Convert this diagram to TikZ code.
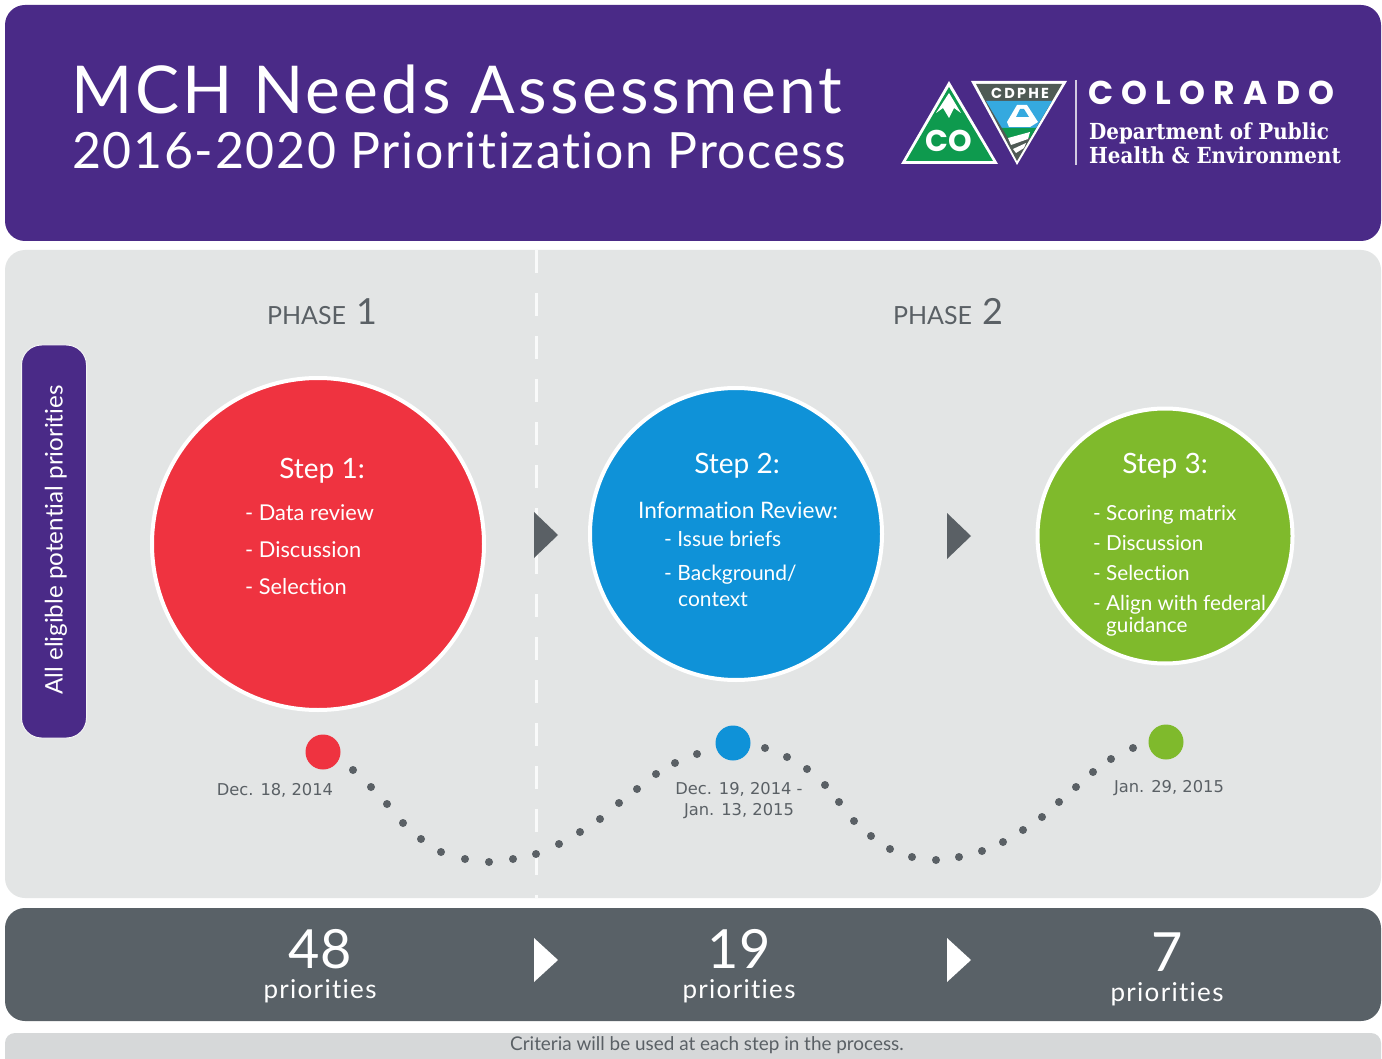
\documentclass[tikz,border=0pt]{standalone}
\usepackage{fontspec}
\setmainfont{Lato}[Ligatures=NoCommon]
\newfontfamily\logofont{Poppins}
\newfontfamily\slabfont{DejaVu Serif Condensed}
\newfontfamily\datefont{DejaVu Sans}
\usetikzlibrary{positioning}

\definecolor{headpurple}{HTML}{4A2A87}
\definecolor{panelgrey}{HTML}{E3E5E5}
\definecolor{bargrey}{HTML}{596167}
\definecolor{stripgrey}{HTML}{D6D8D9}
\definecolor{stepred}{HTML}{EF3340}
\definecolor{stepblue}{HTML}{0F92D8}
\definecolor{stepgreen}{HTML}{7FBA2C}
\definecolor{textgrey}{HTML}{5A6065}
\definecolor{logogreen}{HTML}{0E9A4E}
\definecolor{logogrey}{HTML}{4F5A55}
\definecolor{logoblue}{HTML}{35A9DF}

\tikzstyle{band} = [rectangle, rounded corners=20pt, inner sep=0pt]
\tikzstyle{step_circle} = [circle, draw=white, line width=4pt, inner sep=0pt]
\tikzstyle{step_text} = [text=white, anchor=base west, inner sep=0pt]
\tikzstyle{step_title} = [text=white, anchor=base, inner sep=0pt, font=\fontsize{28}{30}\selectfont]
\tikzstyle{date_dot} = [circle, inner sep=0pt, minimum size=35pt]
\tikzstyle{path_dot} = [circle, fill=textgrey, inner sep=0pt, minimum size=8pt]
\tikzstyle{date_text} = [text=textgrey, align=center, inner sep=0pt, font=\datefont\fontsize{16.3}{21}\selectfont]
\tikzstyle{phase_text} = [text=textgrey, anchor=base, inner sep=0pt]
\tikzstyle{count_num} = [text=white, anchor=base, inner sep=0pt, font=\fontsize{54}{56}\selectfont]
\tikzstyle{count_text} = [text=white, anchor=base, inner sep=0pt, font=\addfontfeature{LetterSpace=5}\fontsize{26}{28}\selectfont]
\tikzstyle{next_mark} = [fill=textgrey]

\begin{document}
\begin{tikzpicture}[x=1pt, y=-1pt]
    \useasboundingbox (0,0) rectangle (1382,1059);
    \fill [white] (0,0) rectangle (1382,1059);

    % bands
    \node (head)  [band, fill=headpurple, minimum width=1376pt, minimum height=236pt] at (693,123) {};
    \node (panel) [band, fill=panelgrey, minimum width=1376pt, minimum height=648pt] at (693,574) {};
    \node (bar)   [band, fill=bargrey, minimum width=1376pt, minimum height=113pt] at (693,964.5) {};
    \fill [stripgrey, rounded corners=10pt] (5,1070) rectangle (1381,1033);
    \draw [white!80!panelgrey, line width=3pt, dash pattern=on 23pt off 20pt] (536,250) -- (536,898);

    % header text
    \node (title) [anchor=base west, text=white, inner sep=0pt, font=\addfontfeature{LetterSpace=4.8}\fontsize{66}{68}\selectfont] at (71,114) {MCH Needs Assessment};
    \node (subtitle) [anchor=base west, text=white, inner sep=0pt, font=\addfontfeature{LetterSpace=3.3}\fontsize{50}{52}\selectfont] at (72,169) {2016-2020 Prioritization Process};

    % logo
    \fill [white, line join=round] (949,81) -- (998,164) -- (901,164) -- cycle;
    \fill [logogreen] (949,87) -- (993,161) -- (906,161) -- cycle;
    \fill [white] (949,93) -- (961,113) -- (954,108) -- (949,118) -- (943,108) -- (936,113) -- cycle;
    \node (co) [text=white, inner sep=0pt, font=\logofont\bfseries\fontsize{30}{30}\selectfont] at (949,141) {CO};
    \fill [white, line join=round] (971,81) -- (1067,81) -- (1017,165) -- cycle;
    \fill [logogrey] (976,84) -- (1062,84) -- (1017,161) -- cycle;
    \fill [logoblue] (986,101) -- (1052,101) -- (1036,128) -- (1002,128) -- cycle;
    \fill [white] (1007,122) -- (1017,105) -- (1027,105) -- (1038,122) -- (1030,127) -- (1009,127) -- cycle;
    \fill [logoblue] (1016,117) -- (1020,109) -- (1024,109) -- (1029,117) -- cycle;
    \fill [logogreen] (1002,128) -- (1036,128) -- (1030,138) -- (1008,138) -- cycle;
    \fill [white] (1008,138) -- (1030,132) -- (1028,139) -- (1011,145) -- cycle;
    \fill [white] (1013,149) -- (1026,143) -- (1024,148) -- (1016,153) -- cycle;
    \node (cdphe) [text=white, inner sep=0pt, font=\logofont\bfseries\addfontfeature{LetterSpace=15}\fontsize{14.5}{15}\selectfont] at (1020,93) {CDPHE};
    \draw [white!75!headpurple, line width=1.5pt] (1076,80) -- (1076,165);
    \node (colorado) [anchor=base west, text=white, inner sep=0pt, font=\logofont\bfseries\addfontfeature{LetterSpace=25}\fontsize{33}{33}\selectfont] at (1088,105) {COLORADO};
    \node (dept) [anchor=base west, text=white, inner sep=0pt, font=\slabfont\bfseries\fontsize{22.1}{22}\selectfont] at (1089,140) {Department of Public};
    \node (health) [anchor=base west, text=white, inner sep=0pt, font=\slabfont\bfseries\fontsize{22.1}{22}\selectfont] at (1089,164) {Health \& Environment};

    % phases
    \node (phase1) [phase_text] at (322,325) {{\fontsize{25}{25}\selectfont PHASE}\hspace{10pt}{\fontsize{36}{36}\selectfont 1}};
    \node (phase2) [phase_text] at (948,325) {{\fontsize{25}{25}\selectfont PHASE}\hspace{10pt}{\fontsize{36}{36}\selectfont 2}};

    % side label
    \node (side) [band, fill=headpurple, draw=white!60!panelgrey, line width=1pt, minimum width=65pt, minimum height=393pt] at (54,541.5) {};
    \node (sidetext) [rotate=90, text=white, inner sep=0pt, font=\fontsize{24.2}{26}\selectfont] at (56,540) {All eligible potential priorities};

    % steps
    \node (step1) [step_circle, fill=stepred, minimum size=332pt] at (318,544) {};
    \node (step2) [step_circle, fill=stepblue, minimum size=292pt] at (736,534) {};
    \node (step3) [step_circle, fill=stepgreen, minimum size=255pt] at (1165,536) {};

    \node (s1title) [step_title] at (322,478) {Step 1:};
    \node (s1a) [step_text, font=\fontsize{21.8}{24}\selectfont] at (245,520) {- Data review};
    \node (s1b) [step_text, font=\fontsize{21.8}{24}\selectfont] at (245,557) {- Discussion};
    \node (s1c) [step_text, font=\fontsize{21.8}{24}\selectfont] at (245,594) {- Selection};

    \node (s2title) [step_title] at (737,473) {Step 2:};
    \node (s2a) [text=white, anchor=base, inner sep=0pt, font=\fontsize{22.7}{25}\selectfont] at (738,518) {Information Review:};
    \node (s2b) [step_text, font=\fontsize{21}{24}\selectfont] at (664,546) {- Issue briefs};
    \node (s2c) [step_text, font=\fontsize{21}{24}\selectfont] at (664,580) {- Background/};
    \node (s2d) [step_text, font=\fontsize{21}{24}\selectfont] at (678,606) {context};

    \node (s3title) [step_title] at (1165,473) {Step 3:};
    \node (s3a) [step_text, font=\fontsize{20.7}{24}\selectfont] at (1093,520) {- Scoring matrix};
    \node (s3b) [step_text, font=\fontsize{20.7}{24}\selectfont] at (1093,550) {- Discussion};
    \node (s3c) [step_text, font=\fontsize{20.7}{24}\selectfont] at (1093,580) {- Selection};
    \node (s3d) [step_text, font=\fontsize{20.7}{24}\selectfont] at (1093,610) {- Align with federal};
    \node (s3e) [step_text, font=\fontsize{20.7}{24}\selectfont] at (1106,632) {guidance};

    % arrows between the steps
    \foreach \x/\y in {534/535, 947/536} {
        \fill [next_mark] (\x,\y-23) -- (\x+24,\y) -- (\x,\y+23) -- cycle;
    }
    \foreach \x in {534, 947} {
        \fill [white] (\x,938) -- (\x+24,960) -- (\x,982) -- cycle;
    }

    % timeline
    \foreach \x/\y in {353/770, 371/787, 387/804, 403/823, 421/839, 441/852, 465/859, 489/862, 513/859, 536/854,
        559/844, 580/832, 600/819, 619/803, 637/789, 656/774, 675/763, 697/754, 765/748, 787/757, 807/769, 825/785,
        839/802, 854/821, 871/836, 890/849, 912/857, 936/860, 959/857, 982/851, 1003/842, 1023/830, 1042/817,
        1059/802, 1076/787, 1093/772, 1111/759, 1133/748} {
        \node [path_dot] at (\x,\y) {};
    }
    \node (dot1) [date_dot, fill=stepred] at (323,752) {};
    \node (dot2) [date_dot, fill=stepblue] at (733,743) {};
    \node (dot3) [date_dot, fill=stepgreen] at (1166,742) {};
    \node (date1) [date_text] at (275,790) {Dec. 18, 2014};
    \node (date2) [date_text] at (739,801) {Dec. 19, 2014 -\\Jan. 13, 2015};
    \node (date3) [date_text] at (1169,788) {Jan. 29, 2015};

    % counts
    \node (n48) [count_num] at (320,968) {48};
    \node (p48) [count_text] at (320,998) {priorities};
    \node (n19) [count_num] at (739,968) {19};
    \node (p19) [count_text] at (739,998) {priorities};
    \node (n7)  [count_num] at (1167,971) {7};
    \node (p7)  [count_text] at (1167,1001) {priorities};

    \node (criteria) [text=textgrey, inner sep=0pt, font=\fontsize{18.9}{21}\selectfont] at (707,1045) {Criteria will be used at each step in the process.};
\end{tikzpicture}
\end{document}
